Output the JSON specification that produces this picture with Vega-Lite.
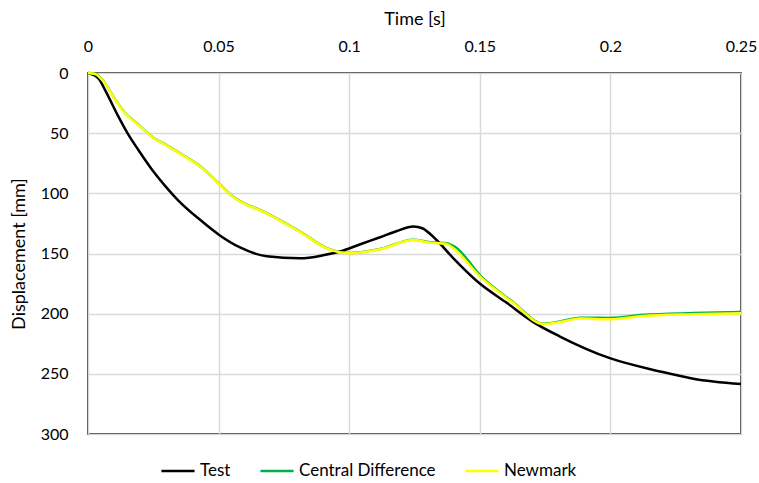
{
  "$schema": "https://vega.github.io/schema/vega-lite/v6.json",
  "autosize": {"type": "none"},
  "padding": {"left": 88, "top": 73, "right": 18, "bottom": 49},
  "width": 653,
  "height": 361,
  "background": "white",
  "config": {
    "font": "Lato",
    "view": {"stroke": "#000000", "strokeWidth": 1.5},
    "axis": {"gridColor": "#d9d9d9", "gridWidth": 1.5, "domain": false, "ticks": false, "labelFont": "Lato", "titleFont": "Lato", "labelColor": "#000000", "titleColor": "#000000", "labelFontSize": 16, "titleFontSize": 18, "titleFontWeight": "normal"}
  },
  "data": {"values": [
    {"s":"Test","t":0,"d":0},
    {"s":"Test","t":0.004,"d":4.4},
    {"s":"Test","t":0.0065,"d":14},
    {"s":"Test","t":0.0116,"d":36},
    {"s":"Test","t":0.0154,"d":51},
    {"s":"Test","t":0.0193,"d":64},
    {"s":"Test","t":0.0244,"d":80},
    {"s":"Test","t":0.03,"d":95},
    {"s":"Test","t":0.0346,"d":106},
    {"s":"Test","t":0.0429,"d":122},
    {"s":"Test","t":0.0505,"d":135},
    {"s":"Test","t":0.0582,"d":145},
    {"s":"Test","t":0.0684,"d":152.3},
    {"s":"Test","t":0.0812,"d":154},
    {"s":"Test","t":0.09,"d":151.5},
    {"s":"Test","t":0.0978,"d":147.5},
    {"s":"Test","t":0.104,"d":142.5},
    {"s":"Test","t":0.1118,"d":136.5},
    {"s":"Test","t":0.118,"d":131.5},
    {"s":"Test","t":0.1246,"d":127.5},
    {"s":"Test","t":0.128,"d":129},
    {"s":"Test","t":0.1335,"d":139},
    {"s":"Test","t":0.1399,"d":154},
    {"s":"Test","t":0.15,"d":175},
    {"s":"Test","t":0.1603,"d":191},
    {"s":"Test","t":0.1705,"d":207},
    {"s":"Test","t":0.1807,"d":219},
    {"s":"Test","t":0.1998,"d":237},
    {"s":"Test","t":0.219,"d":248},
    {"s":"Test","t":0.2317,"d":254},
    {"s":"Test","t":0.25,"d":258.5},
    {"s":"Central Difference","t":0,"d":0},
    {"s":"Central Difference","t":0.0027,"d":0.6},
    {"s":"Central Difference","t":0.0065,"d":8.3},
    {"s":"Central Difference","t":0.0103,"d":21.7},
    {"s":"Central Difference","t":0.0142,"d":33.2},
    {"s":"Central Difference","t":0.0193,"d":42.8},
    {"s":"Central Difference","t":0.0244,"d":52.8},
    {"s":"Central Difference","t":0.0307,"d":60.8},
    {"s":"Central Difference","t":0.0371,"d":69.3},
    {"s":"Central Difference","t":0.0422,"d":76.3},
    {"s":"Central Difference","t":0.0499,"d":91.5},
    {"s":"Central Difference","t":0.0556,"d":102.8},
    {"s":"Central Difference","t":0.0684,"d":116.4},
    {"s":"Central Difference","t":0.0812,"d":131.8},
    {"s":"Central Difference","t":0.0914,"d":145.5},
    {"s":"Central Difference","t":0.1003,"d":149.6},
    {"s":"Central Difference","t":0.1118,"d":146.3},
    {"s":"Central Difference","t":0.1246,"d":138.5},
    {"s":"Central Difference","t":0.1309,"d":140.7},
    {"s":"Central Difference","t":0.1373,"d":141.5},
    {"s":"Central Difference","t":0.1405,"d":144.5},
    {"s":"Central Difference","t":0.1505,"d":169},
    {"s":"Central Difference","t":0.1628,"d":190.5},
    {"s":"Central Difference","t":0.1743,"d":208.3},
    {"s":"Central Difference","t":0.1807,"d":206.5},
    {"s":"Central Difference","t":0.1884,"d":203.3},
    {"s":"Central Difference","t":0.1998,"d":203.5},
    {"s":"Central Difference","t":0.2126,"d":201},
    {"s":"Central Difference","t":0.2317,"d":199.5},
    {"s":"Central Difference","t":0.25,"d":198.6},
    {"s":"Newmark","t":0,"d":0},
    {"s":"Newmark","t":0.0027,"d":0.8},
    {"s":"Newmark","t":0.0065,"d":8.6},
    {"s":"Newmark","t":0.0103,"d":22},
    {"s":"Newmark","t":0.0142,"d":33.5},
    {"s":"Newmark","t":0.0193,"d":43},
    {"s":"Newmark","t":0.0244,"d":53},
    {"s":"Newmark","t":0.0307,"d":61},
    {"s":"Newmark","t":0.0371,"d":69.5},
    {"s":"Newmark","t":0.0422,"d":76.5},
    {"s":"Newmark","t":0.0499,"d":91.7},
    {"s":"Newmark","t":0.0556,"d":103},
    {"s":"Newmark","t":0.0684,"d":116.6},
    {"s":"Newmark","t":0.0812,"d":132},
    {"s":"Newmark","t":0.0914,"d":145.7},
    {"s":"Newmark","t":0.1003,"d":149.8},
    {"s":"Newmark","t":0.1118,"d":146.5},
    {"s":"Newmark","t":0.1246,"d":138.8},
    {"s":"Newmark","t":0.1309,"d":141},
    {"s":"Newmark","t":0.1373,"d":142},
    {"s":"Newmark","t":0.1399,"d":145.7},
    {"s":"Newmark","t":0.15,"d":169},
    {"s":"Newmark","t":0.1628,"d":191},
    {"s":"Newmark","t":0.1743,"d":208.6},
    {"s":"Newmark","t":0.1807,"d":207},
    {"s":"Newmark","t":0.1884,"d":204},
    {"s":"Newmark","t":0.1998,"d":204.7},
    {"s":"Newmark","t":0.2126,"d":202},
    {"s":"Newmark","t":0.2317,"d":200.5},
    {"s":"Newmark","t":0.25,"d":199.7}
  ]},
  "mark": {"type": "line", "interpolate": "monotone", "strokeWidth": 2.5},
  "encoding": {
    "x": {"field": "t", "type": "quantitative", "scale": {"domain": [0, 0.25], "nice": false},
      "axis": {"orient": "top", "title": "Time [s]", "format": "~g", "values": [0, 0.05, 0.1, 0.15, 0.2, 0.25], "labelPadding": 19, "titlePadding": 10, "labelFlush": false}},
    "y": {"field": "d", "type": "quantitative", "scale": {"domain": [0, 300], "reverse": true, "nice": false},
      "axis": {"title": "Displacement [mm]", "values": [0, 50, 100, 150, 200, 250, 300], "labelPadding": 20, "titlePadding": 12}},
    "color": {"field": "s", "type": "nominal",
      "scale": {"domain": ["Test", "Central Difference", "Newmark"], "range": ["#000000", "#00b050", "#ffff00"]},
      "legend": {"title": null, "orient": "none", "legendX": 72, "legendY": 380, "direction": "horizontal", "symbolType": "stroke", "symbolSize": 1100, "symbolStrokeWidth": 2.5, "labelFontSize": 17, "labelFont": "Lato", "labelColor": "#000000", "labelOffset": 4, "columnPadding": 24}
    }
  }
}
